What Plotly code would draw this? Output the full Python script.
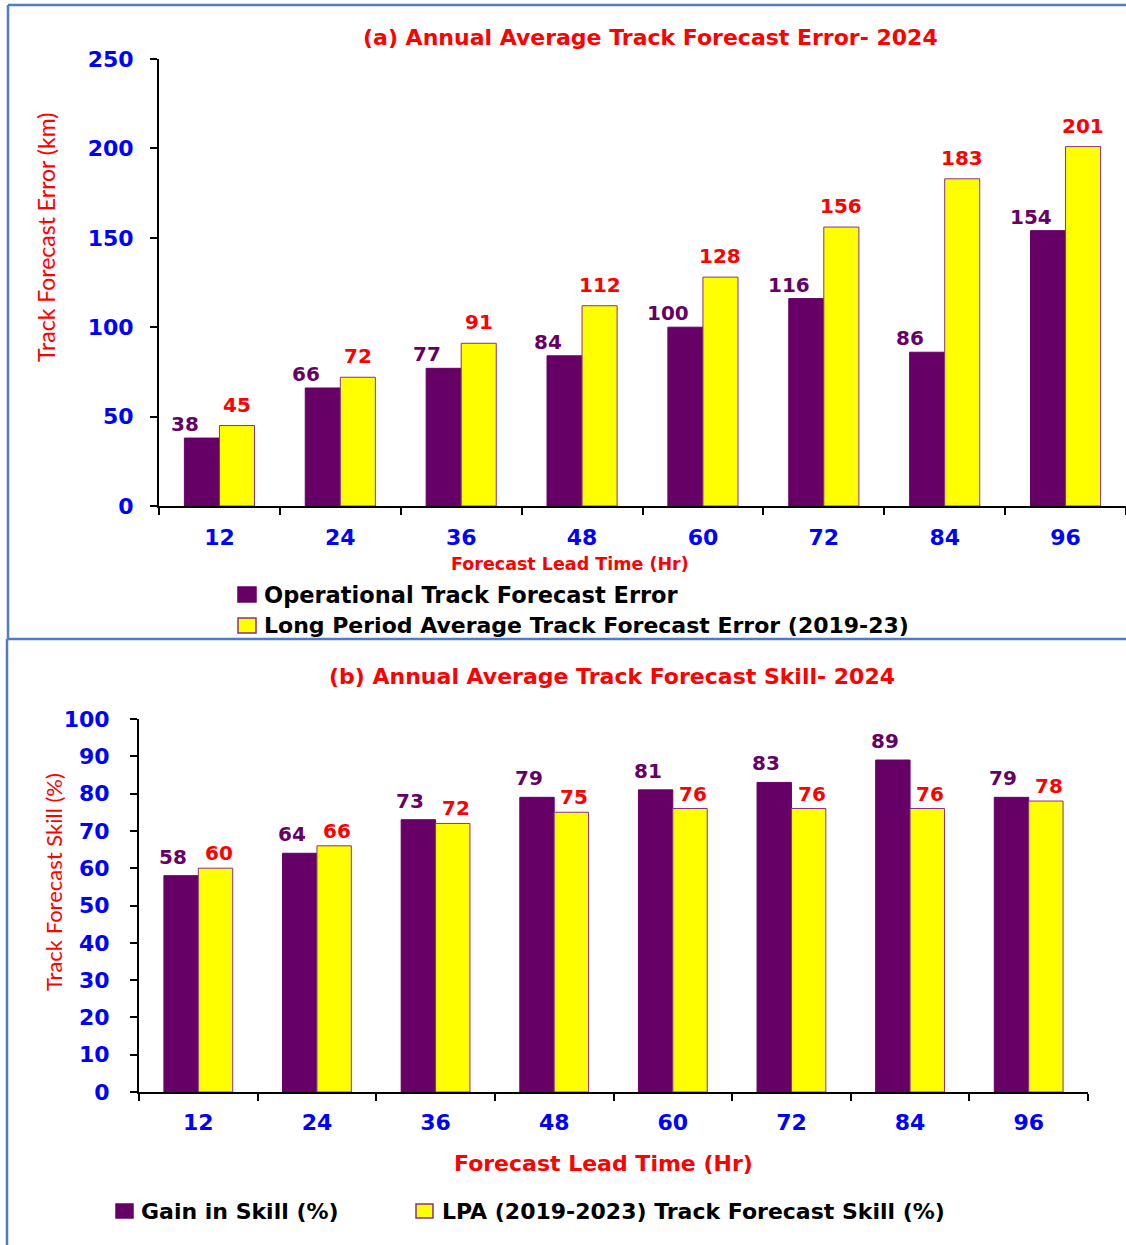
import plotly.graph_objects as go

# ---- data ----
lead_times = ["12", "24", "36", "48", "60", "72", "84", "96"]

operational_error = [38, 66, 77, 84, 100, 116, 86, 154]
lpa_error = [45, 72, 91, 112, 128, 156, 183, 201]

gain_in_skill = [58, 64, 73, 79, 81, 83, 89, 79]
lpa_skill = [60, 66, 72, 75, 76, 76, 76, 78]

error_ticks = [0, 50, 100, 150, 200, 250]
skill_ticks = [0, 10, 20, 30, 40, 50, 60, 70, 80, 90, 100]

# ---- styling ----
W, H = 1126, 1245
PURPLE = "#660066"
YELLOW = "#FFFF00"
EDGE = "#8B2F8B"
RED = "#FF0000"
BLUE = "#0000FF"
FRAME = "#4F7BC8"
BOLD = "DejaVu Sans"
NARROW = "Lato, Liberation Sans Narrow, sans-serif"


def px_x(x):
    return x / W


def px_y(y):
    return 1 - y / H


# plot areas in pixels: (left, right, top, bottom)
TOP_AREA = (159, 1126, 59, 506)
BOT_AREA = (139, 1088, 719, 1092)

positions = list(range(len(lead_times)))
boundaries = [p - 0.5 for p in positions] + [positions[-1] + 0.5]

fig = go.Figure()

fig.add_trace(go.Bar(x=positions, y=operational_error, name="Operational Track Forecast Error",
                     marker=dict(color=PURPLE, line=dict(color=PURPLE, width=1)),
                     xaxis="x", yaxis="y", showlegend=False))
fig.add_trace(go.Bar(x=positions, y=lpa_error, name="Long Period Average Track Forecast Error (2019-23)",
                     marker=dict(color=YELLOW, line=dict(color=EDGE, width=1)),
                     xaxis="x", yaxis="y", showlegend=False))
fig.add_trace(go.Bar(x=positions, y=gain_in_skill, name="Gain in Skill (%)",
                     marker=dict(color=PURPLE, line=dict(color=PURPLE, width=1)),
                     xaxis="x2", yaxis="y2", showlegend=False))
fig.add_trace(go.Bar(x=positions, y=lpa_skill, name="LPA (2019-2023) Track Forecast Skill (%)",
                     marker=dict(color=YELLOW, line=dict(color=EDGE, width=1)),
                     xaxis="x2", yaxis="y2", showlegend=False))

BARGAP = 0.42
bar_w = (1 - BARGAP) / 2  # width of one bar in category units

annotations = []


def add_value_labels(xref, yref, values, color, side, dx, dy):
    for p, v in zip(positions, values):
        annotations.append(dict(
            x=p + side * bar_w / 2, y=v, xref=xref, yref=yref, text=str(v), showarrow=False,
            xanchor="center", yanchor="bottom", xshift=dx, yshift=dy,
            font=dict(family=BOLD, size=20, color=color, weight="bold")))


add_value_labels("x", "y", operational_error, PURPLE, -1, -17, 0)
add_value_labels("x", "y", lpa_error, RED, 1, 0, 7)
add_value_labels("x2", "y2", gain_in_skill, PURPLE, -1, -8, 5)
add_value_labels("x2", "y2", lpa_skill, RED, 1, 3, 1)


def text(x, y, s, size, color, xanchor="center", angle=0, family=BOLD, weight="bold"):
    annotations.append(dict(
        x=px_x(x), y=px_y(y), xref="paper", yref="paper", text=s, showarrow=False,
        xanchor=xanchor, yanchor="middle", textangle=angle,
        font=dict(family=family, size=size, color=color, weight=weight)))


# titles
text(650, 38, "(a) Annual Average Track Forecast Error- 2024", 22, RED)
text(612, 677, "(b) Annual Average Track Forecast Skill- 2024", 22, RED)
# axis titles
text(570, 564, "Forecast Lead Time (Hr)", 17.5, RED)
text(603, 1163, "Forecast Lead Time (Hr)", 22, RED)
text(46, 238, "Track Forecast Error (km)", 23, RED, angle=-90, family=NARROW, weight="normal")
text(53, 882, "Track Forecast Skill (%)", 22, RED, angle=-90, family=NARROW, weight="normal")

shapes = []


def legend_item(x0, y0, x1, y1, fill, line, label_x, label, size):
    shapes.append(dict(type="rect", xref="paper", yref="paper",
                       x0=px_x(x0), x1=px_x(x1), y0=px_y(y1), y1=px_y(y0),
                       fillcolor=fill, line=dict(color=line, width=1.5)))
    text(label_x, (y0 + y1) / 2, label, size, "black", xanchor="left")


legend_item(238, 587, 256, 602, PURPLE, PURPLE, 262, "Operational Track Forecast Error", 22.5)
legend_item(238, 618, 256, 633, YELLOW, EDGE, 262, "Long Period Average Track Forecast Error (2019-23)", 22)
legend_item(116, 1204, 133, 1218, PURPLE, PURPLE, 139, "Gain in Skill (%)", 22)
legend_item(416, 1204, 433, 1218, YELLOW, EDGE, 440, "LPA (2019-2023) Track Forecast Skill (%)", 22)

# panel frame lines
for x0, y0, x1, y1 in [(8, 5, 1126, 5), (8, 5, 8, 639), (7, 639, 1126, 639), (7, 639, 7, 1245)]:
    shapes.append(dict(type="line", xref="paper", yref="paper",
                       x0=px_x(x0), x1=px_x(x1), y0=px_y(y0), y1=px_y(y1),
                       line=dict(color=FRAME, width=2.5)))

tickfont = dict(family=BOLD, size=22, color=BLUE, weight="bold")

x_common = dict(type="linear", tickvals=positions, ticktext=lead_times, ticks="",
                minor=dict(tickvals=boundaries, ticks="outside", ticklen=7, tickwidth=2,
                           tickcolor="black", showgrid=False),
                showline=True, linecolor="black", linewidth=2, automargin=False,
                showgrid=False, zeroline=False, tickfont=tickfont,
                range=[boundaries[0], boundaries[-1]])
y_common = dict(ticks="outside", ticklen=7, tickwidth=2, tickcolor="black", automargin=False,
                showline=True, linecolor="black", linewidth=2, showgrid=False,
                zeroline=False, tickfont=tickfont)

fig.update_layout(
    width=W, height=H,
    margin=dict(l=0, r=0, t=0, b=0, autoexpand=False),
    paper_bgcolor="white", plot_bgcolor="white",
    barmode="group", bargap=BARGAP, bargroupgap=0,
    xaxis=dict(domain=[px_x(TOP_AREA[0]), px_x(TOP_AREA[1])], anchor="y",
               ticklabelstandoff=11, **x_common),
    yaxis=dict(domain=[px_y(TOP_AREA[3]), px_y(TOP_AREA[2])], anchor="x",
               range=[0, 250], tickvals=error_ticks, ticklabelstandoff=12, **y_common),
    xaxis2=dict(domain=[px_x(BOT_AREA[0]), px_x(BOT_AREA[1])], anchor="y2",
                ticklabelstandoff=10, **x_common),
    yaxis2=dict(domain=[px_y(BOT_AREA[3]), px_y(BOT_AREA[2])], anchor="x2",
                range=[0, 100], tickvals=skill_ticks, ticklabelstandoff=16, **y_common),
    annotations=annotations,
    shapes=shapes,
)

fig.write_html("out.html")
